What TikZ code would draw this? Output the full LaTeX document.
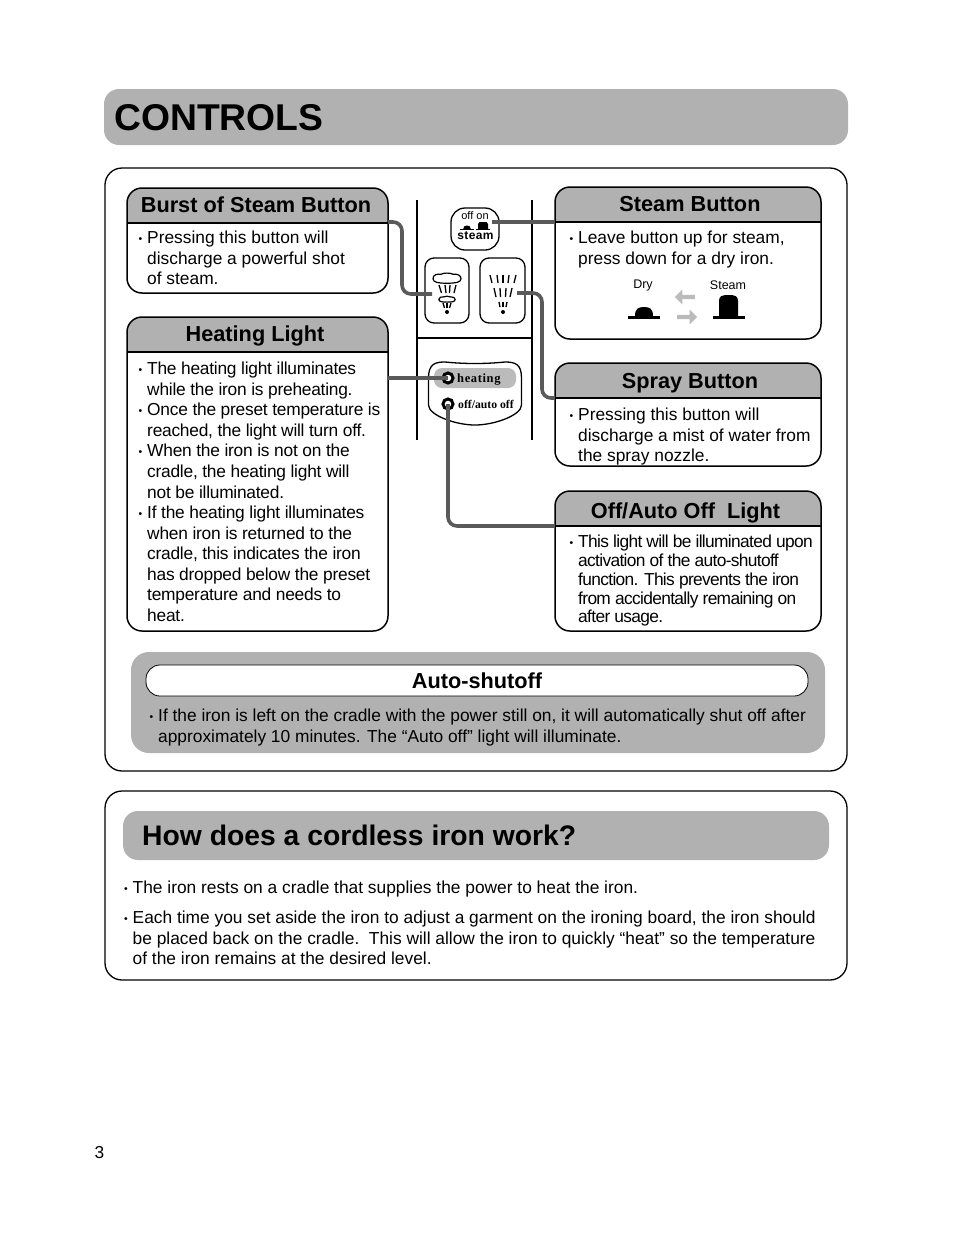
\documentclass[tikz,border=0pt]{standalone}
\usepackage{fontspec}
\setmainfont{Liberation Sans}
\newfontfamily\lampfont{Liberation Serif}
\usetikzlibrary{arrows.meta,calc,positioning,shapes.arrows}
\definecolor{Banner}{HTML}{B1B1B1}
\definecolor{Wire}{HTML}{5A5A5A}
\definecolor{Pale}{HTML}{BBBBBB}
\newcommand{\bul}{\llap{\raisebox{1.6pt}{\scalebox{0.6}{\textbullet}}\hspace{5pt}}}
\tikzset{
  sheet/.style={draw, line width=1.3pt, rounded corners=17pt, fill=white, inner sep=0pt, outer sep=0pt, anchor=north west},
  banner/.style={fill=Banner, rounded corners=15pt, inner sep=0pt, outer sep=0pt, anchor=north west},
  panelbox/.style={draw, line width=1.5pt, rounded corners=15pt, fill=white, inner sep=0pt, outer sep=0pt, anchor=north west, minimum width=261pt,
    path picture={
      \fill[Banner, sharp corners] (path picture bounding box.north west) rectangle ([yshift=-35pt]path picture bounding box.north east);
      \draw[line width=1.8pt, sharp corners] ([yshift=-35pt]path picture bounding box.north west) -- ([yshift=-35pt]path picture bounding box.north east);
    }},
  headtext/.style={font=\fontsize{21.7}{26}\selectfont\bfseries, inner sep=0pt, anchor=base},
  bodytext/.style={font=\fontsize{17.35}{20.55}\selectfont, inner sep=0pt, anchor=north west, align=left},
  keybox/.style={draw, line width=1.3pt, rounded corners=9pt, inner sep=0pt, outer sep=0pt, anchor=north west},
  wire/.style={draw=Wire, line width=3.6pt, rounded corners=9pt},
  fan/.style={line width=1.3pt},
  lamp/.style={circle, draw, line width=3pt, fill=white, minimum size=10pt, inner sep=0pt},
  partitions/.style={line width=1.2pt},
  smallcap/.style={font=\fontsize{12.5}{14}\selectfont, inner sep=0pt},
  pale/.style={single arrow, fill=Pale, minimum width=15pt, minimum height=20pt, single arrow head extend=3pt, inner sep=1pt, outer sep=0pt},
}
\begin{document}
\begin{tikzpicture}[x=1pt, y=-1pt]
  \useasboundingbox (0,0) rectangle (954,1235);
  % top title
  \node[banner, minimum width=744pt, minimum height=56pt] (controls) at (104,89) {};
  \node[font=\fontsize{37.3}{42}\selectfont\bfseries, inner sep=0pt, anchor=west] (controlstext) at (114,118) {CONTROLS};
  \node[sheet, minimum width=742pt, minimum height=603pt] (upper) at (105,168) {};
  % divider lines round the keys
  \coordinate (divA) at (417,200);
  \coordinate (divB) at (532,200);
  \draw[partitions] (divA) -- (417,440);
  \draw[partitions] (divB) -- (532,440);
  \draw[partitions] (417,338) -- (532,338);
  % left panels
  \node[panelbox, minimum height=105pt] (burst) at (127,188) {};
  \node[headtext] (bursthead) at (256,212) {Burst of Steam Button};
  \node[bodytext] (bursttext) at (147,231) {\bul Pressing this button will\\discharge a powerful shot\\of steam.};
  \node[panelbox, minimum height=314pt] (heating) at (127,317) {};
  \node[headtext] (heatinghead) at (255,341) {Heating Light};
  \node[bodytext, font=\fontsize{17.35}{20.55}\selectfont\addfontfeature{LetterSpace=-1.4}] (heatingtext) at (147,362) {\bul The heating light illuminates\\while the iron is preheating.\\\bul Once the preset temperature is\\reached, the light will turn off.\\\bul When the iron is not on the\\cradle, the heating light will\\not be illuminated.\\\bul If the heating light illuminates\\when iron is returned to the\\cradle, this indicates the iron\\has dropped below the preset\\temperature and needs to\\heat.};
  % right panels
  \node[panelbox, minimum width=266pt, minimum height=152pt] (steam) at (555,187) {};
  \node[headtext] (steamhead) at (690,211) {Steam Button};
  \node[bodytext] (steamtext) at (578,231) {\bul Leave button up for steam,\\press down for a dry iron.};
  \node[smallcap] (drylabel) at (643,285) {Dry};
  \node[smallcap] (steamlabel) at (728,285) {Steam};
  \fill (628,315.5) rectangle (660,318.5);
  \fill (635,316) .. controls (635,309) and (638,307) .. (644,307) .. controls (650,307) and (653,309) .. (653,316) -- cycle;
  \fill (713,315.5) rectangle (745,318.5);
  \fill (719,316) -- (719,301) .. controls (719,296) and (722,295) .. (728.5,295) .. controls (735,295) and (738,296) .. (738,301) -- (738,316) -- cycle;
  \node[pale, shape border rotate=180] (arrowleft) at (686,297) {};
  \node[pale] (arrowright) at (686,317) {};
  \node[panelbox, minimum width=266pt, minimum height=103pt] (spray) at (555,363) {};
  \node[headtext] (sprayhead) at (690,388) {Spray Button};
  \node[bodytext] (spraytext) at (578,408) {\bul Pressing this button will\\discharge a mist of water from\\the spray nozzle.};
  \node[panelbox, minimum width=266pt, minimum height=140pt] (auto) at (555,491) {};
  \node[headtext] (autohead) at (685.5,518) {Off/Auto Off\ \ Light};
  \node[bodytext, font=\fontsize{17.35}{18.8}\selectfont\addfontfeature{LetterSpace=-3.8}] (autotext) at (578,535) {\bul This light will be illuminated upon\\activation of the auto-shutoff\\function. This prevents the iron\\from accidentally remaining on\\after usage.};
  % auto-shutoff strip
  \node[banner, rounded corners=18pt, minimum width=694pt, minimum height=101pt] (shutoff) at (131,652) {};
  \node[draw, line width=0.8pt, fill=white, rounded corners=14pt, inner sep=0pt, outer sep=0pt, anchor=north west, minimum width=662pt, minimum height=31pt] (pill) at (146,665) {};
  \node[headtext] (pillhead) at (477,688) {Auto-shutoff};
  \node[bodytext] (shutofftext) at (158,709) {\bul If the iron is left on the cradle with the power still on, it will automatically shut off after\\approximately 10 minutes. The “Auto off” light will illuminate.};
  % keys
  \node[keybox, rounded corners=14pt, minimum width=48pt, minimum height=42pt] (steamkey) at (451,208) {};
  \node[font=\fontsize{11}{12}\selectfont, inner sep=0pt] (steamkeyup) at (475,215.5) {off on};
  \node[font=\fontsize{12}{13}\selectfont\bfseries\addfontfeature{LetterSpace=3}, inner sep=0pt, anchor=base] (steamkeyname) at (475.5,239.5) {steam};
  \fill (460,229) rectangle (474,230);
  \fill (463,229.5) .. controls (463,226.5) and (465,225.5) .. (467,225.5) .. controls (469,225.5) and (471,226.5) .. (471,229.5) -- cycle;
  \fill (476,229) rectangle (490,230);
  \fill (478,229.5) -- (478,224) .. controls (478,222) and (480,222) .. (483,222) .. controls (486,222) and (488,222) .. (488,224) -- (488,229.5) -- cycle;
  \node[keybox, minimum width=44pt, minimum height=65pt] (burstkey) at (425,258) {};
  \foreach \cy/\sz in {278.7/1,299.5/0.58}
    \draw[line width=1.2pt, shift={(447,\cy)}, scale=\sz] (-14,0) .. controls (-14,-4) and (-10,-5) .. (-6,-4.5) .. controls (-3,-6) and (3,-6) .. (6,-4.5) .. controls (11,-5) and (14,-3) .. (14,0) .. controls (14,4) and (8,4.5) .. (0,4.5) .. controls (-8,4.5) and (-14,4) .. (-14,0) -- cycle;
  \foreach \xa/\xb in {-8/-5.5,-2/-1,3/2.5,9/7} \draw[fan] (447+\xa,285) -- (447+\xb,293);
  \foreach \xa/\xb in {-4/-2.5,0/0,4/2.5} \draw[fan] (447+\xa,303) -- (447+\xb,308);
  \fill (447,312) circle (2);
  \node[keybox, minimum width=45pt, minimum height=65pt] (spraykey) at (480,258) {};
  \foreach \xa/\xb in {-13/-11,-6/-5,0/0,6/5,13/11} \draw[fan] (503+\xa,275) -- (503+\xb,283);
  \foreach \xa/\xb in {-9/-7,-3/-2.5,3/2.5,9/7} \draw[fan] (503+\xa,288) -- (503+\xb,297);
  \foreach \xa/\xb in {-4/-3,0/0,4/3} \draw[fan] (503+\xa,302) -- (503+\xb,307);
  \fill (503,312) circle (2);
  % lamp plate
  \draw[line width=1.3pt] (428.5,378) .. controls (428.5,364) and (435,362) .. (445,362) .. controls (465,364) and (485,364) .. (505,362) .. controls (515,362) and (521.5,364) .. (521.5,378) -- (521.5,405) .. controls (521.5,415) and (495,425) .. (475,425) .. controls (455,425) and (428.5,415) .. (428.5,405) -- cycle;
  \node[fill=Pale, rounded corners=8pt, inner sep=0pt, minimum width=82pt, minimum height=20pt] (heatpill) at (475,378) {};
  \node[lamp] (heatlamp) at (448,378) {};
  \node[lamp] (autolamp) at (448,404) {};
  \node[font=\lampfont\fontsize{12.5}{14}\selectfont\bfseries\addfontfeature{LetterSpace=5}, inner sep=0pt, anchor=west] (heatname) at (457,380) {heating};
  \node[font=\lampfont\fontsize{11.7}{14}\selectfont\bfseries, inner sep=0pt, anchor=west] (autoname) at (458,404) {off/auto off};
  % connectors
  \coordinate (burstport) at (388,222);
  \coordinate (burstspot) at (432,294);
  \coordinate (steamport) at (555,222);
  \coordinate (steamspot) at (492,222);
  \coordinate (sprayspot) at (517,293);
  \coordinate (sprayport) at (555,398);
  \coordinate (heatport) at (388,378);
  \coordinate (autoport) at (555,526);
  \draw[wire] (burstport) -- ++(14,0) |- (burstspot);
  \draw[wire] (steamport) -- (steamspot);
  \draw[wire] (sprayspot) -- ++(25,0) |- (sprayport);
  \draw[wire] (heatport) -- (heatlamp.center);
  \draw[wire] (autolamp.center) |- (autoport);
  % lower sheet
  \node[sheet, minimum width=742pt, minimum height=189pt] (lower) at (105,791) {};
  \node[banner, minimum width=706pt, minimum height=49pt] (question) at (123,811) {};
  \node[font=\fontsize{28.3}{32}\selectfont\bfseries, inner sep=0pt, anchor=west] (questiontext) at (142,835.5) {How does a cordless iron work?};
  \node[bodytext] (restingtext) at (132.5,881) {\bul The iron rests on a cradle that supplies the power to heat the iron.};
  \node[bodytext] (asidetext) at (132.5,911) {\bul Each time you set aside the iron to adjust a garment on the ironing board, the iron should\\be placed back on the cradle.\ \ This will allow the iron to quickly “heat” so the temperature\\of the iron remains at the desired level.};
  \node[font=\fontsize{17.3}{20}\selectfont, inner sep=0pt] (pagenumber) at (99.5,1153) {3};
\end{tikzpicture}
\end{document}
